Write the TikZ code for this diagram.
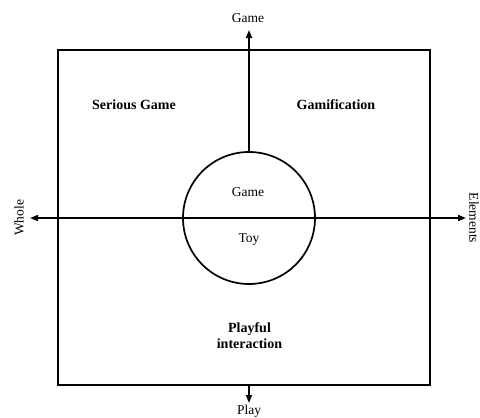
\documentclass[tikz,border=0pt]{standalone}
\usepackage{fontspec}
\setmainfont{Liberation Serif}
\usetikzlibrary{arrows.meta}
\begin{document}
\begin{tikzpicture}[x=1pt,y=-1pt,
  axis/.style={line width=1.7pt,-{Triangle[length=8pt,width=6pt]}},
  frame/.style={draw,line width=1.8pt,inner sep=0pt},
  label/.style={font=\fontsize{13.5}{16}\selectfont,inner sep=0pt},
  quad/.style={font=\fontsize{14}{17}\selectfont\bfseries,inner sep=0pt,align=center}]
\useasboundingbox (0,0) rectangle (480,418);
% outer frame
\node[frame,minimum width=372pt,minimum height=335pt] (box) at (244,217.5) {};
% central circle
\node[draw,circle,line width=1.7pt,minimum size=132pt,inner sep=0pt] (core) at (249,218) {};
% axis end points
\coordinate (left) at (30,218);
\coordinate (right) at (466,218);
\coordinate (up) at (249,30);
\coordinate (downstart) at (249,385);
\coordinate (down) at (249,403);
% axes
\draw[axis] (core.north) -- (up);
\draw[axis] (core.center) -- (left);
\draw[axis] (core.center) -- (right);
\draw[axis] (downstart) -- (down);
% axis labels
\node[label] (lgame) at (248,18) {Game};
\node[label] (lplay) at (249,411) {Play};
\node[label,rotate=90] (lwhole) at (19,218) {Whole};
\node[label,rotate=-90] (lelem) at (474,218) {Elements};
% circle labels
\node[label] (cgame) at (248,192) {Game};
\node[label] (ctoy) at (249,240) {Toy};
% quadrant labels
\node[quad] (serious) at (134,105) {Serious Game};
\node[quad] (gamif) at (336,105) {Gamification};
\node[quad] (playful) at (249.5,335.5) {Playful\\[-1pt]interaction};
\end{tikzpicture}
\end{document}
